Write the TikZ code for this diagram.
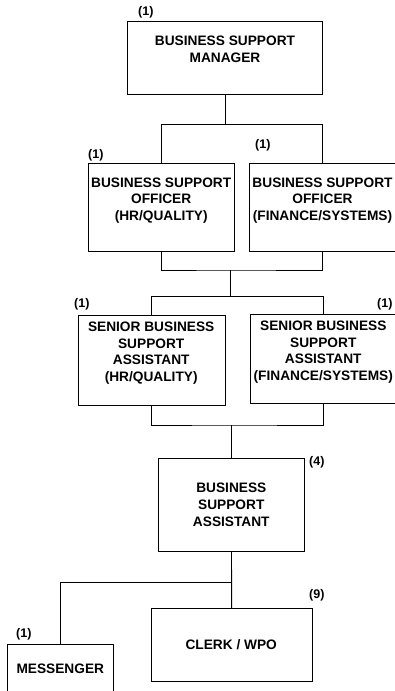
\documentclass[tikz,border=0pt]{standalone}
\usepackage{fontspec}
\setmainfont{Liberation Sans}
\begin{document}
\begin{tikzpicture}[x=1pt,y=-1pt,
  box/.style={draw,line width=0.9pt,inner sep=0pt,outer sep=0pt,anchor=north west},
  txt/.style={font=\fontsize{13.7}{16.6}\selectfont\bfseries,align=center,inner sep=0pt},
  cnt/.style={font=\fontsize{12.5}{14}\selectfont\bfseries,inner sep=0pt,anchor=west},
  link/.style={line width=0.9pt}]
\useasboundingbox (0,0) rectangle (395,691);
\clip (0,0) rectangle (395,691);
\fill[white] (0,0) rectangle (395,691);

% boxes
\node[box,minimum width=194.6pt,minimum height=73pt] (mgr) at (127.7,21.3) {};
\node[box,minimum width=146pt,minimum height=88pt] (offHR) at (88.3,163) {};
\node[box,minimum width=146.6pt,minimum height=88pt] (offFin) at (249.3,163) {};
\node[box,minimum width=146.3pt,minimum height=89.7pt] (senHR) at (78.7,315.3) {};
\node[box,minimum width=145.5pt,minimum height=89pt] (senFin) at (250.7,314.3) {};
\node[box,minimum width=146.4pt,minimum height=93.4pt] (bsa) at (158.3,458.3) {};
\node[box,minimum width=161.3pt,minimum height=73pt] (clerk) at (151,608) {};
\node[box,minimum width=106pt,minimum height=70pt] (mess) at (7.7,644.7) {};

% box titles
\node[txt] (mgrT) at (225,49.2) {BUSINESS SUPPORT\\MANAGER};
\node[txt] (offHRT) at (161.2,200.6) {BUSINESS SUPPORT\\OFFICER\\(HR/QUALITY)};
\node[txt] (offFinT) at (322.5,200.6) {BUSINESS SUPPORT\\OFFICER\\(FINANCE/SYSTEMS)};
\node[txt] (senHRT) at (151.2,353.3) {SENIOR BUSINESS\\SUPPORT\\ASSISTANT\\(HR/QUALITY)};
\node[txt] (senFinT) at (323.3,352.1) {SENIOR BUSINESS\\SUPPORT\\ASSISTANT\\(FINANCE/SYSTEMS)};
\node[txt] (bsaT) at (231.3,504.8) {BUSINESS\\SUPPORT\\ASSISTANT};
\node[txt] (clerkT) at (231.2,644.3) {CLERK / WPO};
\node[txt] (messT) at (60.3,668.3) {MESSENGER};

% head counts
\node[cnt] (mgrN) at (138,12.3) {(1)};
\node[cnt] (offHRN) at (88,155) {(1)};
\node[cnt] (offFinN) at (255,145.7) {(1)};
\node[cnt] (senHRN) at (74,304.3) {(1)};
\node[cnt] (senFinN) at (377,304.3) {(1)};
\node[cnt] (bsaN) at (309,462.7) {(4)};
\node[cnt] (clerkN) at (309,595) {(9)};
\node[cnt] (messN) at (16,634) {(1)};

% junctions
\coordinate (j1) at (225,124.7);
\coordinate (j2) at (230.7,270);
\coordinate (j3) at (230.7,296.7);
\coordinate (j4) at (231.5,425);
\coordinate (j5) at (231.5,582.3);

% connectors
\draw[link] (mgr.south) -- (j1);
\draw[link] (offHR.north) |- (j1) -| (offFin.north);
\draw[link] (offHR.south) |- (j2) -| (offFin.south);
\draw[link] (j2) -- (j3);
\draw[link] (senHR.north) |- (j3) -| (senFin.north);
\draw[link] (senHR.south) |- (j4) -| (senFin.south);
\draw[link] (j4) -- (bsa.north);
\draw[link] (bsa.south) -- (clerk.north);
\draw[link] (j5) -| (mess.north);
\end{tikzpicture}
\end{document}
